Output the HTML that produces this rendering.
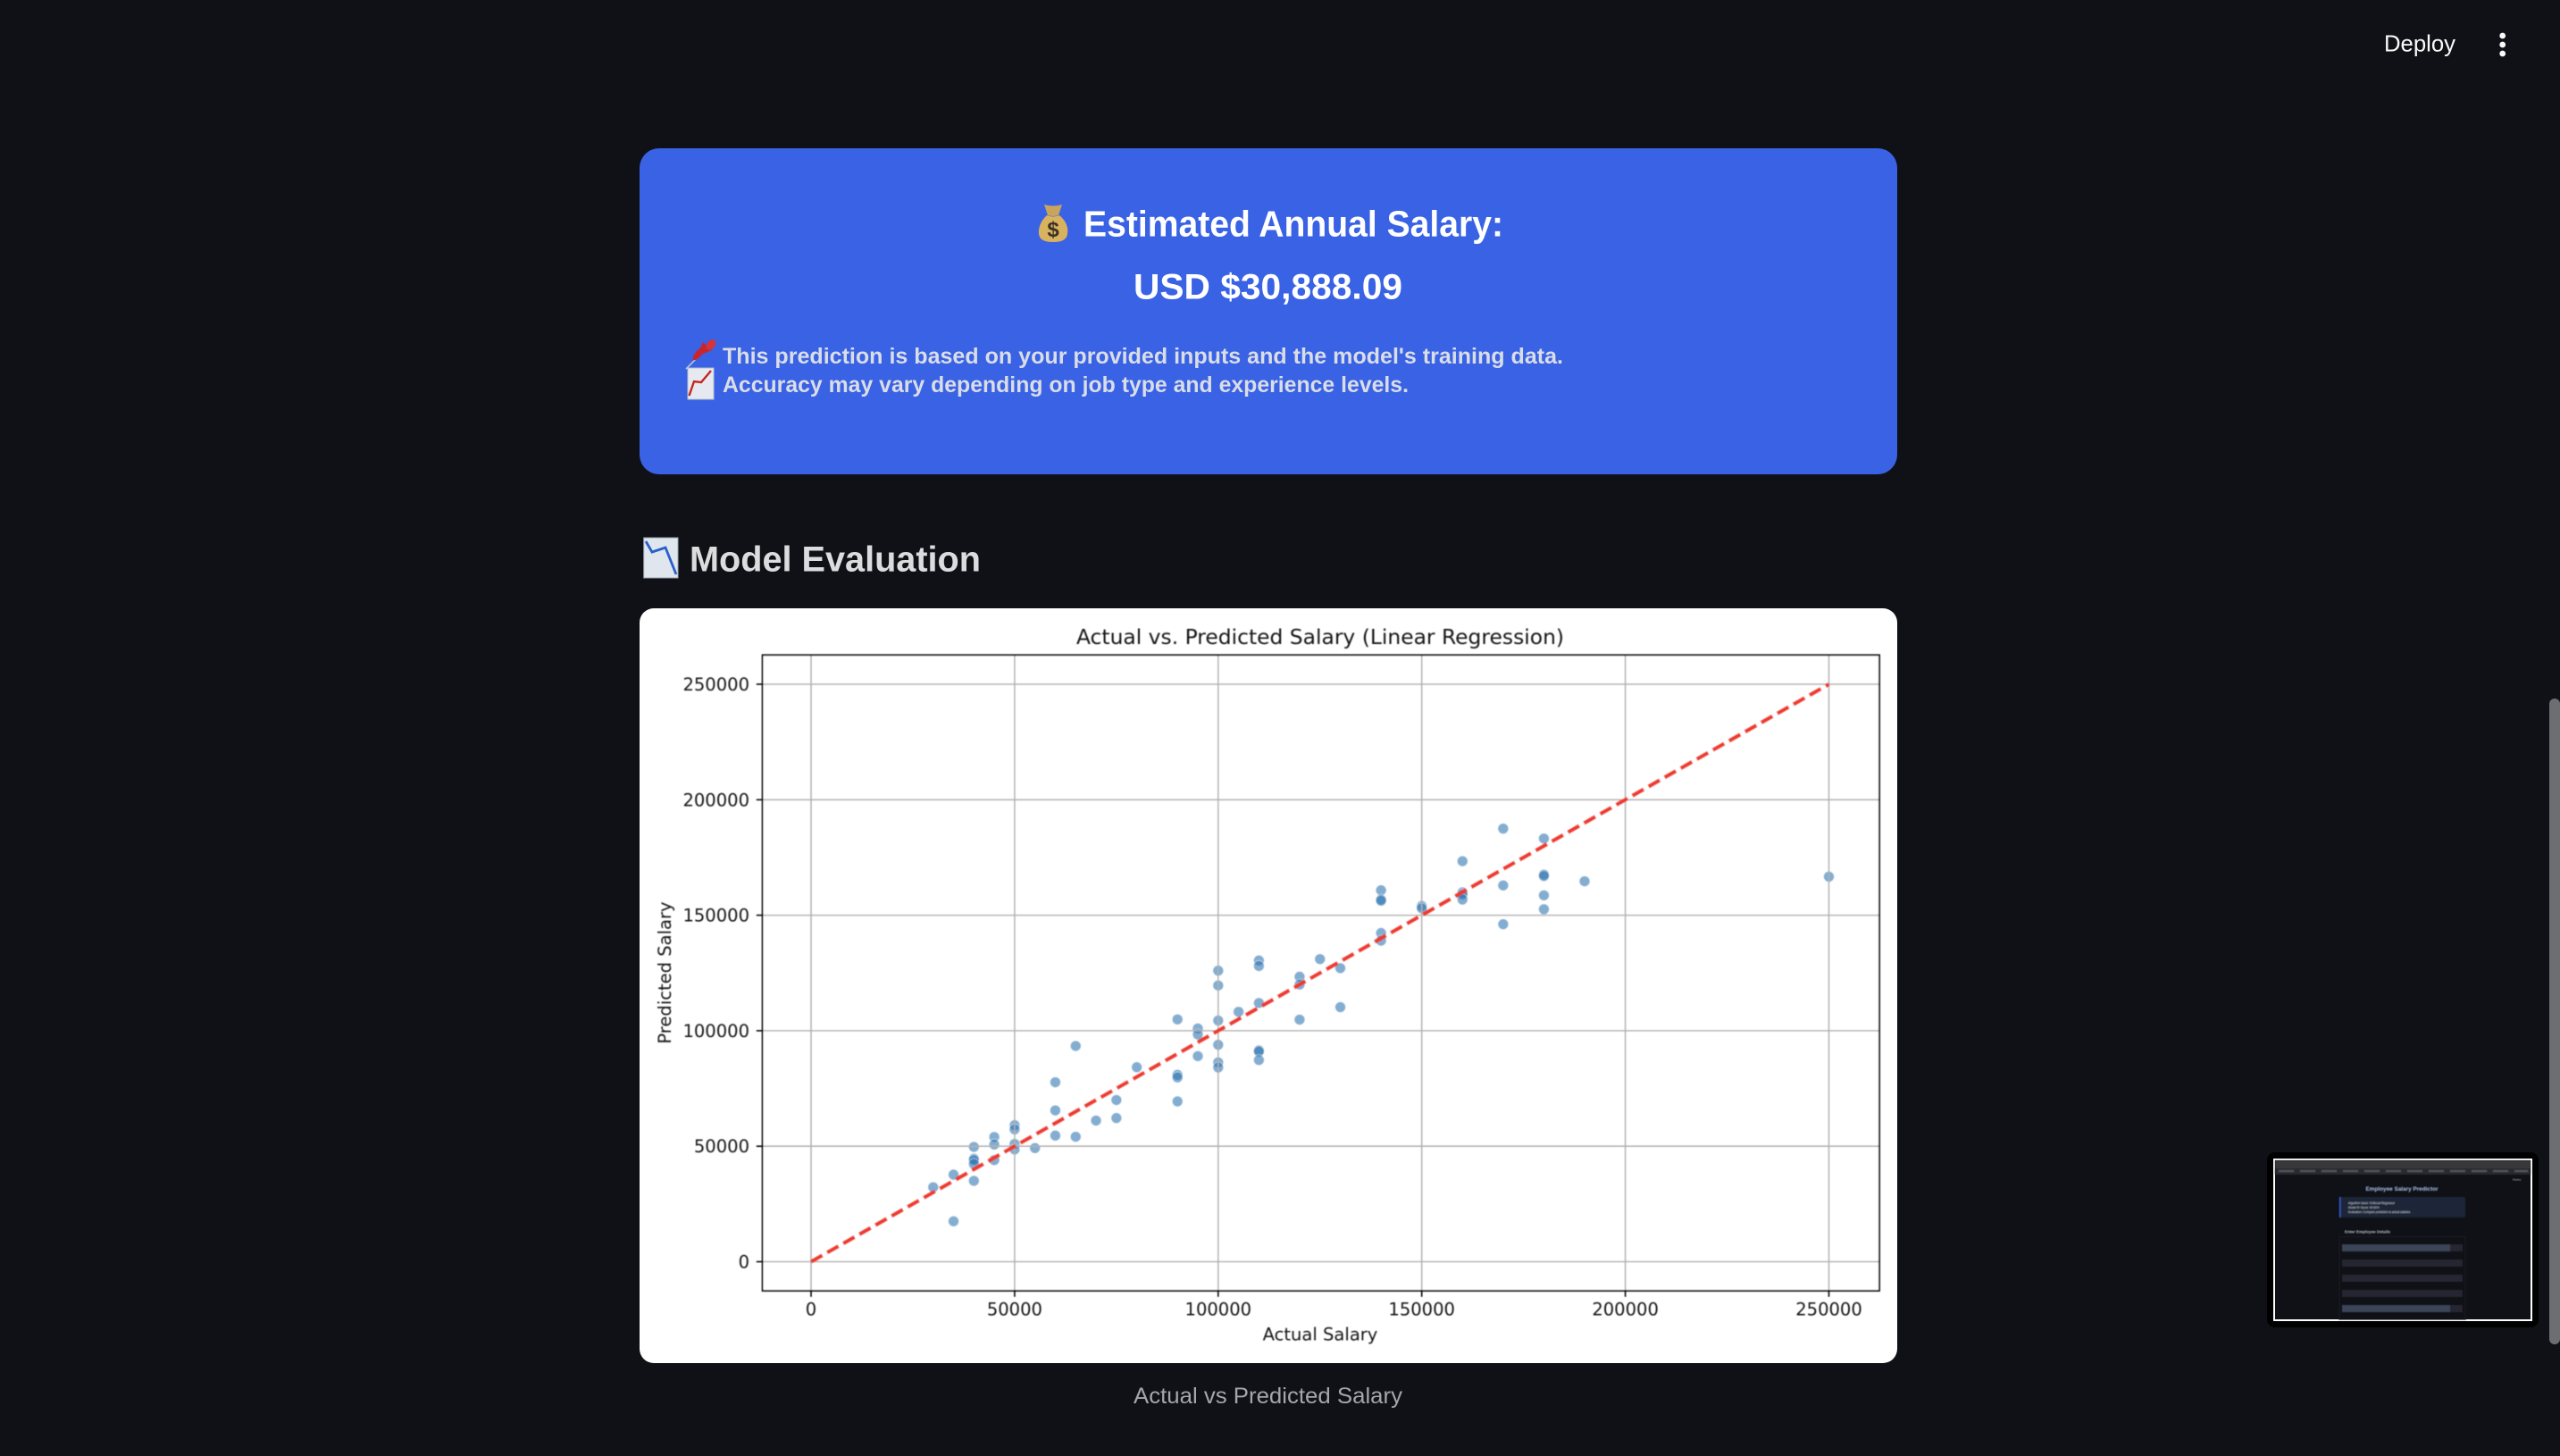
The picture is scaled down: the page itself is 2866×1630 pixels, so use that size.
<!DOCTYPE html>
<html lang="en">
<head>
<meta charset="utf-8">
<title>Employee Salary Predictor - Model Evaluation</title>
<style>
html,body{margin:0;padding:0;background:#0f1116;width:2866px;height:1630px;overflow:hidden}
svg{display:block}
.ui{font-family:"Liberation Sans",sans-serif}
.mpl{font-family:"DejaVu Sans",sans-serif;fill:#161616}
</style>
</head>
<body>
<svg id="page" xmlns="http://www.w3.org/2000/svg" width="2866" height="1630" viewBox="0 0 2866 1630">
  <defs>
    <filter id="soft" filterUnits="userSpaceOnUse" x="716" y="681" width="1408" height="845"><feGaussianBlur stdDeviation="0.55"/></filter>
    <filter id="softer" filterUnits="userSpaceOnUse" x="2546" y="1298" width="288" height="180"><feGaussianBlur stdDeviation="0.5"/></filter>
  </defs>
  <rect width="2866" height="1630" fill="#0f1116"/>

  <!-- toolbar -->
  <text class="ui" x="2669" y="57.5" font-size="26" fill="#fafafa" textLength="80" lengthAdjust="spacingAndGlyphs">Deploy</text>
  <g fill="#fafafa">
    <circle cx="2801.7" cy="40" r="3.4"/>
    <circle cx="2801.7" cy="50" r="3.4"/>
    <circle cx="2801.7" cy="60" r="3.4"/>
  </g>

  <!-- result card -->
  <rect x="716" y="166" width="1408" height="365" rx="22" fill="#3962e4"/>
  <g>
    <path d="M1169 229 Q1179 232 1189 229 L1185 241 Q1179 243 1173 241 Z" fill="#c9a45c"/>
    <path d="M1172 241 Q1179 244 1186 241 Q1197 250 1195 262 Q1194 271 1179 271 Q1164 271 1163 262 Q1162 250 1172 241 Z" fill="#d9b25f"/>
    <text x="1179" y="265" font-family="'Liberation Sans',sans-serif" font-size="24" font-weight="700" fill="#3a3226" text-anchor="middle">$</text>
  </g>
  <text class="ui" x="1213" y="264.5" font-size="41" font-weight="700" fill="#ffffff" textLength="470" lengthAdjust="spacingAndGlyphs">Estimated Annual Salary:</text>
  <text class="ui" x="1269" y="334.5" font-size="40" font-weight="700" fill="#ffffff" textLength="301" lengthAdjust="spacingAndGlyphs">USD $30,888.09</text>

  <g>
    <line x1="768" y1="413" x2="782" y2="399" stroke="#b9c4d6" stroke-width="1.6"/>
    <ellipse cx="782" cy="396" rx="9" ry="3.5" transform="rotate(-50 782 396)" fill="#c8262c"/>
    <path d="M780 399 L787 383 L797 392 Z" fill="#c8262c"/>
    <ellipse cx="796" cy="386" rx="6.5" ry="4.5" transform="rotate(-50 796 386)" fill="#d5343a"/>
  </g>
  <text class="ui" x="809" y="407" font-size="25" font-weight="700" fill="#d9dde6" textLength="941" lengthAdjust="spacingAndGlyphs">This prediction is based on your provided inputs and the model's training data.</text>
  <g>
    <rect x="770" y="412" width="29" height="35" fill="#e6eaf0" stroke="#b8c0cc" stroke-width="1"/>
    <polyline points="771.5,443 777,427 785,428 796,415" fill="none" stroke="#c4261f" stroke-width="2.4"/>
  </g>
  <text class="ui" x="809" y="439" font-size="25" font-weight="700" fill="#d9dde6" textLength="768" lengthAdjust="spacingAndGlyphs">Accuracy may vary depending on job type and experience levels.</text>

  <!-- section heading -->
  <g>
    <rect x="720.7" y="602" width="38.3" height="45" fill="#e0e6ee" stroke="#9aa3ad" stroke-width="1"/>
    <polyline points="723,606 730,618 745,613 757,643" fill="none" stroke="#2a5fc9" stroke-width="2.8"/>
  </g>
  <text class="ui" x="772" y="639.5" font-size="40" font-weight="700" fill="#dcdcde" textLength="326" lengthAdjust="spacingAndGlyphs">Model Evaluation</text>

  <!-- chart card -->
  <rect x="716" y="681" width="1408" height="845" rx="16" fill="#ffffff"/>
  <g id="chart" filter="url(#soft)"></g>

  <text class="ui" x="1269" y="1571" font-size="25" fill="#a3a6ad" textLength="301" lengthAdjust="spacingAndGlyphs">Actual vs Predicted Salary</text>

  <!-- page thumbnail -->
  <g>
    <rect x="2538" y="1290" width="304" height="196" rx="9" fill="#000000"/>
    <rect x="2546" y="1298" width="288" height="180" fill="#0f1116" stroke="#ffffff" stroke-width="2"/>
    <g filter="url(#softer)">
      <rect x="2547" y="1299" width="286" height="9" fill="#37383b"/>
      <rect x="2547" y="1308" width="286" height="7" fill="#2a2a2d"/>
      <g fill="#55575d">
        <rect x="2551" y="1310" width="17" height="2"/><rect x="2575" y="1310" width="17" height="2"/><rect x="2599" y="1310" width="17" height="2"/>
        <rect x="2623" y="1310" width="17" height="2"/><rect x="2647" y="1310" width="17" height="2"/><rect x="2671" y="1310" width="17" height="2"/>
        <rect x="2695" y="1310" width="17" height="2"/><rect x="2719" y="1310" width="17" height="2"/><rect x="2743" y="1310" width="17" height="2"/>
        <rect x="2767" y="1310" width="17" height="2"/><rect x="2791" y="1310" width="17" height="2"/><rect x="2815" y="1310" width="15" height="2"/>
      </g>
      <text class="ui" x="2689" y="1333" font-size="6.4" font-weight="700" fill="#a9c6ec" text-anchor="middle">Employee Salary Predictor</text>
      <rect x="2619" y="1340" width="141" height="23" rx="1.5" fill="#1e2638"/>
      <rect x="2619" y="1340" width="1.4" height="23" fill="#3962e4"/>
      <text class="ui" font-size="3.2" fill="#cfd3da"><tspan x="2629" y="1348">Algorithm Used: XGBoost Regressor</tspan><tspan x="2629" y="1353">Model R² Score: 94.50%</tspan><tspan x="2629" y="1358">Evaluation: Compare predicted vs actual salaries</tspan></text>
      <text class="ui" x="2625" y="1380.5" font-size="4.6" font-weight="700" fill="#bfc2c8">Enter Employee Details</text>
      <rect x="2619" y="1384.5" width="141" height="93" fill="none" stroke="#1f2229" stroke-width="1"/>
      <rect x="2622" y="1393" width="135" height="8" fill="#262730"/>
      <rect x="2622" y="1393" width="121" height="8" fill="#3b4558"/>
      <rect x="2622" y="1410" width="135" height="8" fill="#262730"/>
      <rect x="2622" y="1427" width="135" height="8" fill="#262730"/>
      <rect x="2622" y="1444" width="135" height="8" fill="#262730"/>
      <rect x="2622" y="1461" width="135" height="8" fill="#262730"/>
      <rect x="2622" y="1461" width="121" height="8" fill="#3b4558"/>
      <text class="ui" x="2813" y="1321.5" font-size="3" fill="#c8c8c8">Deploy</text>
    </g>
  </g>

  <!-- scrollbar -->
  <rect x="2854" y="782" width="12" height="723" rx="6" fill="#6d6e72"/>
</svg>

<script>
const actualSalary = [
  30000,
  35000, 35000,
  40000, 40000, 40000, 40000, 40000,
  45000, 45000, 45000,
  50000, 50000, 50000, 50000,
  55000,
  60000, 60000, 60000,
  65000, 65000,
  70000,
  75000, 75000,
  80000,
  90000, 90000, 90000, 90000,
  95000, 95000, 95000,
  100000, 100000, 100000, 100000, 100000, 100000,
  105000,
  110000, 110000, 110000, 110000, 110000, 110000,
  120000, 120000, 120000,
  125000,
  130000, 130000,
  140000, 140000, 140000, 140000, 140000,
  150000, 150000,
  160000, 160000, 160000, 160000,
  170000, 170000, 170000,
  180000, 180000, 180000, 180000, 180000,
  190000,
  250000
];
const predictedSalary = [
  32260,
  37700, 17500,
  49700, 44600, 44000, 42300, 35000,
  54000, 50750, 44000,
  59100, 57300, 51000, 48600,
  49200,
  77700, 65500, 54600,
  93400, 54100,
  61100,
  70000, 62200,
  84200,
  104900, 80900, 79800, 69400,
  101000, 98400, 89000,
  126000, 119600, 104400, 93900, 86300, 84100,
  108200,
  130400, 128000, 112000, 91500, 91000, 87300,
  123400, 120000, 104800,
  131000,
  127100, 110200,
  160800, 156800, 156300, 142300, 139000,
  154000, 153000,
  173400, 159900, 159000, 156800,
  187500, 162900, 146100,
  183200, 167600, 167000, 158600, 152600,
  164700,
  166700
];
const xTickValues = [0, 50000, 100000, 150000, 200000, 250000];
const yTickValues = [0, 50000, 100000, 150000, 200000, 250000];
const idealLineValues = [0, 250000];

const SVG_NS = 'http://www.w3.org/2000/svg';
const chart = document.getElementById('chart');
const plot = { left: 853.6, right: 2104, top: 733.3, bottom: 1445 };

function xScale(v) { return 908 + v * (2047.5 - 908) / 250000; }
function yScale(v) { return 1412.5 - v * (1412.5 - 766) / 250000; }

function make(tag, attrs, parent) {
  const el = document.createElementNS(SVG_NS, tag);
  for (const k in attrs) el.setAttribute(k, attrs[k]);
  parent.appendChild(el);
  return el;
}

// plot background
const plotBg = make('rect', { x: plot.left, y: plot.top, width: plot.right - plot.left, height: plot.bottom - plot.top, fill: '#ffffff' }, chart);



// scatter points
const pointsGroup = make('g', {}, chart);


actualSalary.forEach((a, i) => {
  const dot = make('circle', { cx: xScale(a), cy: yScale(predictedSalary[i]), r: 6.1, fill: '#2a74b0', stroke: '#ffffff', 'stroke-width': 0.7, opacity: 0.58 }, pointsGroup);
  
  
});

// gridlines and ticks
xTickValues.forEach(v => {
  const gx = make('line', { x1: xScale(v), x2: xScale(v), y1: plot.top, y2: plot.bottom, stroke: '#b0b0b0', 'stroke-width': 1.56 }, chart);
  
  
  const tx = make('line', { x1: xScale(v), x2: xScale(v), y1: plot.bottom, y2: plot.bottom + 6.8, stroke: '#000', 'stroke-width': 1.56 }, chart);
  
  
  const lx = make('text', { class: 'mpl', x: xScale(v), y: 1472.5, 'font-size': 19.55, 'text-anchor': 'middle' }, chart);
  lx.textContent = String(v);
  
  
});
yTickValues.forEach(v => {
  const gy = make('line', { x1: plot.left, x2: plot.right, y1: yScale(v), y2: yScale(v), stroke: '#b0b0b0', 'stroke-width': 1.56 }, chart);
  
  
  const ty = make('line', { x1: plot.left - 6.8, x2: plot.left, y1: yScale(v), y2: yScale(v), stroke: '#000', 'stroke-width': 1.56 }, chart);
  
  
  const ly = make('text', { class: 'mpl', x: 839, y: yScale(v) + 7, 'font-size': 19.55, 'text-anchor': 'end' }, chart);
  ly.textContent = String(v);
  
  
});

// ideal prediction line
const idealLine = make('line', {
  x1: xScale(idealLineValues[0]), y1: yScale(idealLineValues[0]),
  x2: xScale(idealLineValues[1]), y2: yScale(idealLineValues[1]),
  stroke: '#ee3a2e', 'stroke-width': 4.4, 'stroke-dasharray': '14.47 6.26'
}, chart);



// axes frame
const frame = make('rect', { x: plot.left, y: plot.top, width: plot.right - plot.left, height: plot.bottom - plot.top, fill: 'none', stroke: '#000', 'stroke-width': 1.8 }, chart);



// titles
const chartTitle = make('text', { class: 'mpl', x: 1478, y: 721, 'font-size': 23.4, 'text-anchor': 'middle' }, chart);
chartTitle.textContent = 'Actual vs. Predicted Salary (Linear Regression)';



const xTitle = make('text', { class: 'mpl', x: 1478, y: 1500.5, 'font-size': 19.55, 'text-anchor': 'middle' }, chart);
xTitle.textContent = 'Actual Salary';



const yTitle = make('text', { class: 'mpl', x: 751, y: 1089, 'font-size': 19.55, 'text-anchor': 'middle', transform: 'rotate(-90 751 1089)' }, chart);
yTitle.textContent = 'Predicted Salary';


</script>
</body>
</html>
